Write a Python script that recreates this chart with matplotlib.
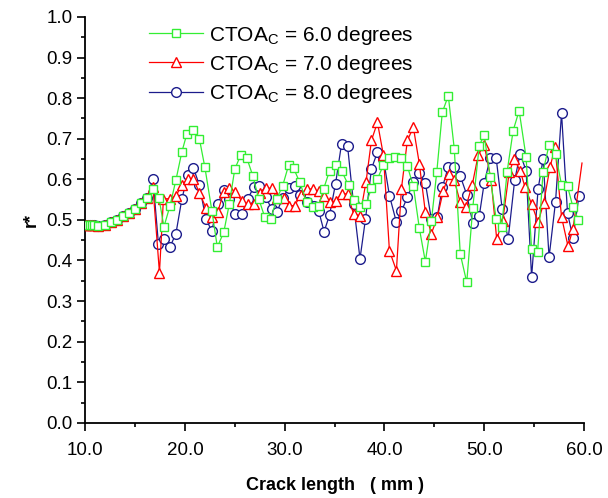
import matplotlib
matplotlib.use('Agg')
import matplotlib.pyplot as plt
from matplotlib.ticker import MultipleLocator, FormatStrFormatter

plt.rcParams['font.family'] = ['Liberation Sans', 'DejaVu Sans']

start_x = [10.1, 10.3, 10.5, 10.7, 10.9, 11.33, 12.0, 12.6, 13.2, 13.8, 14.4, 15.0, 15.6, 16.2]
start_y = [0.488, 0.488, 0.488, 0.488, 0.488, 0.486, 0.488, 0.494, 0.500, 0.509, 0.516, 0.527, 0.541, 0.553]

# CTOAc = 6.0 degrees
green_x = start_x + [16.8, 17.4, 17.9, 18.5, 19.1, 19.7, 20.2, 20.85, 21.45, 22.0, 22.7, 23.25, 23.9,
                     24.45, 25.0, 25.6, 26.2, 26.8, 27.4, 28.0, 28.6, 29.2, 29.8, 30.4, 30.9, 31.5,
                     32.2, 32.8, 33.4, 33.9, 34.5, 35.1, 35.7, 36.4, 36.95, 37.55, 38.15, 38.7, 39.3,
                     39.9, 40.5, 41.1, 41.7, 42.3, 42.9, 43.5, 44.1, 44.7, 45.25, 45.8, 46.4, 47.0,
                     47.6, 48.25, 48.85, 49.5, 50.0, 50.6, 51.2, 51.75, 52.3, 52.9, 53.5, 54.2, 54.75,
                     55.35, 55.9, 56.5, 57.15, 57.75, 58.35, 58.9, 59.45]
green_y = start_y + [0.576, 0.554, 0.483, 0.534, 0.598, 0.668, 0.712, 0.722, 0.700, 0.630, 0.523, 0.433, 0.470,
                     0.539, 0.625, 0.660, 0.653, 0.609, 0.552, 0.507, 0.502, 0.552, 0.584, 0.635, 0.627, 0.593,
                     0.545, 0.531, 0.535, 0.576, 0.621, 0.635, 0.621, 0.585, 0.548, 0.531, 0.539, 0.578, 0.601,
                     0.635, 0.652, 0.654, 0.653, 0.632, 0.583, 0.479, 0.397, 0.496, 0.619, 0.765, 0.806, 0.675,
                     0.416, 0.346, 0.529, 0.683, 0.709, 0.605, 0.502, 0.482, 0.619, 0.720, 0.769, 0.654, 0.427,
                     0.420, 0.619, 0.685, 0.663, 0.586, 0.583, 0.531, 0.500]

# CTOAc = 7.0 degrees
red_x = start_x + [16.8, 17.45, 17.85, 18.5, 19.1, 19.7, 20.3, 20.85, 21.45, 22.1, 22.7, 23.3, 23.9,
                   24.45, 25.0, 25.7, 26.3, 26.9, 27.5, 28.1, 28.7, 29.2, 29.9, 30.4, 31.0, 31.6, 32.2,
                   32.8, 33.4, 33.9, 34.5, 35.1, 35.7, 36.3, 36.9, 37.55, 38.15, 38.7, 39.3, 39.9, 40.5,
                   41.2, 41.7, 42.3, 42.9, 43.5, 44.1, 44.7, 45.3, 45.9, 46.5, 47.0, 47.6, 48.15, 48.8,
                   49.4, 50.0, 50.7, 51.25, 51.85, 52.5, 53.0, 53.6, 54.1, 54.75, 55.4, 55.95, 56.6,
                   57.1, 57.75, 58.4, 58.9, 59.8]
red_y = start_y + [0.580, 0.370, 0.552, 0.552, 0.559, 0.586, 0.601, 0.601, 0.567, 0.530, 0.507, 0.520, 0.569,
                   0.579, 0.569, 0.547, 0.539, 0.540, 0.565, 0.578, 0.578, 0.554, 0.554, 0.535, 0.535, 0.561, 0.576,
                   0.576, 0.570, 0.558, 0.543, 0.547, 0.564, 0.564, 0.515, 0.510, 0.593, 0.696, 0.740, 0.659, 0.424,
                   0.375, 0.576, 0.696, 0.728, 0.638, 0.519, 0.466, 0.506, 0.572, 0.613, 0.597, 0.543, 0.531, 0.586,
                   0.660, 0.685, 0.597, 0.453, 0.496, 0.617, 0.650, 0.621, 0.580, 0.539, 0.494, 0.541, 0.630,
                   0.679, 0.507, 0.435, 0.478, 0.640]

# CTOAc = 8.0 degrees
blue_x = start_x + [16.8, 17.35, 17.9, 18.5, 19.1, 19.7, 20.3, 20.85, 21.45, 22.1, 22.7, 23.3, 23.9,
                    24.45, 25.0, 25.7, 26.3, 26.9, 27.4, 28.1, 28.7, 29.2, 29.8, 30.4, 31.0, 31.5, 32.2,
                    32.9, 33.4, 33.95, 34.5, 35.1, 35.7, 36.3, 36.9, 37.55, 38.1, 38.7, 39.3, 39.9, 40.5,
                    41.2, 41.7, 42.3, 42.9, 43.5, 44.1, 44.7, 45.3, 45.8, 46.4, 47.0, 47.6, 48.25, 48.85,
                    49.5, 50.0, 50.6, 51.2, 51.8, 52.4, 53.05, 53.6, 54.2, 54.75, 55.4, 55.9, 56.5,
                    57.15, 57.75, 58.35, 58.9, 59.5]
blue_y = start_y + [0.601, 0.440, 0.453, 0.433, 0.466, 0.552, 0.611, 0.628, 0.586, 0.502, 0.473, 0.539, 0.574,
                    0.552, 0.515, 0.515, 0.552, 0.580, 0.584, 0.556, 0.527, 0.519, 0.553, 0.578, 0.583, 0.561, 0.545,
                    0.535, 0.523, 0.471, 0.512, 0.589, 0.687, 0.683, 0.540, 0.404, 0.502, 0.626, 0.667, 0.650, 0.560,
                    0.494, 0.521, 0.556, 0.593, 0.615, 0.591, 0.502, 0.508, 0.580, 0.630, 0.630, 0.608, 0.562, 0.493,
                    0.509, 0.591, 0.652, 0.652, 0.527, 0.453, 0.597, 0.663, 0.621, 0.359, 0.576, 0.650, 0.408,
                    0.545, 0.763, 0.517, 0.455, 0.560]

labels = ['CTOA$_\\mathregular{C}$ = 6.0 degrees',
          'CTOA$_\\mathregular{C}$ = 7.0 degrees',
          'CTOA$_\\mathregular{C}$ = 8.0 degrees']

fig = plt.figure(figsize=(6.08, 4.98), dpi=100)
ax = fig.add_axes([0.14, 0.151, 0.8205, 0.815])

ax.plot(blue_x, blue_y, color='#1c1c8c', lw=0.9, marker='o', ms=7, mfc='white', mec='#1c1c8c',
        mew=1.0, label=labels[2], zorder=2)
ax.plot(red_x, red_y, color='#ff0000', lw=0.9, marker='^', ms=7.5, mfc='white', mec='#ff0000',
        mew=1.0, label=labels[1], zorder=3, markevery=slice(0, len(red_x) - 1))
ax.plot(green_x, green_y, color='#33ee33', lw=0.9, marker='s', ms=6, mfc='white', mec='#33ee33',
        mew=1.0, label=labels[0], zorder=4)

ax.set_xlim(10, 60)
ax.set_ylim(0, 1.0)
ax.xaxis.set_major_locator(MultipleLocator(10))
ax.xaxis.set_minor_locator(MultipleLocator(5))
ax.yaxis.set_major_locator(MultipleLocator(0.1))
ax.yaxis.set_minor_locator(MultipleLocator(0.05))
ax.xaxis.set_major_formatter(FormatStrFormatter('%.1f'))
ax.yaxis.set_major_formatter(FormatStrFormatter('%.1f'))
ax.tick_params(which='major', direction='out', length=5.5, width=1.2, labelsize=13.5)
ax.tick_params(which='minor', direction='out', length=3, width=1.2)
ax.tick_params(axis='x', which='major', pad=8)
ax.spines['top'].set_visible(False)
ax.spines['right'].set_visible(False)
ax.spines['left'].set_linewidth(1.3)
ax.spines['bottom'].set_linewidth(1.3)

ax.set_xlabel('Crack length   ( mm )', fontsize=13, fontweight='bold', labelpad=13)
ax.set_ylabel('r*', fontsize=13, fontweight='bold', labelpad=5)

h, l = ax.get_legend_handles_labels()
ax.legend(h[::-1], l[::-1], loc='upper left', bbox_to_anchor=(0.09, 1.03), frameon=False,
          fontsize=15, handlelength=2.6, labelspacing=0.3, handletextpad=0.3)

fig.savefig('out.png', dpi=100)
